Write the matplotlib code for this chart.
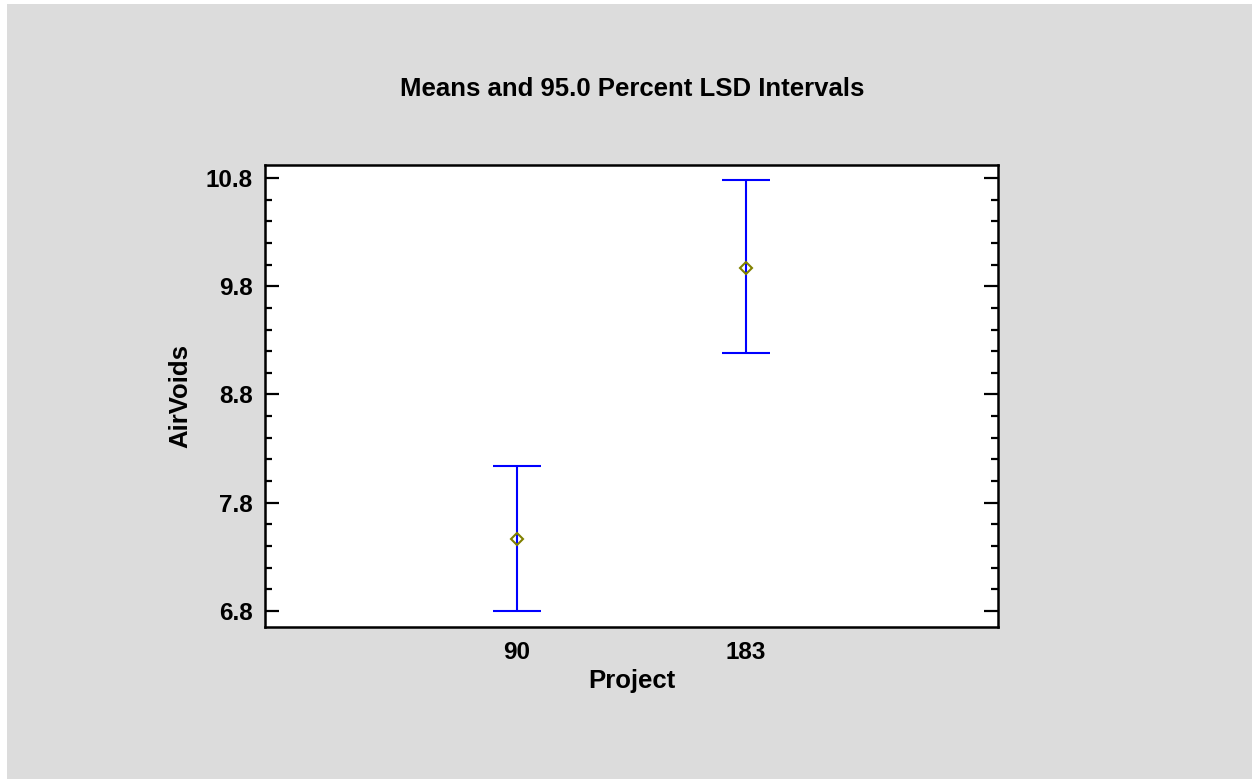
import matplotlib
matplotlib.use('Agg')
import matplotlib.pyplot as plt
from matplotlib.patches import Rectangle
from matplotlib.ticker import MultipleLocator

plt.rcParams['font.family'] = ['Liberation Sans', 'DejaVu Sans']
plt.rcParams['font.weight'] = 'bold'

# 데이터: 그룹별 평균과 95% LSD 구간
projects = ['90', '183']
means = [7.465, 9.97]
lower = [6.80, 9.18]
upper = [8.14, 10.78]

fig = plt.figure(figsize=(12.52, 7.79), dpi=100)
fig.patch.set_facecolor('white')
# 회색 배경 (왼쪽/위쪽에 얇은 흰 테두리)
fig.patches.append(Rectangle((7 / 1252, 0), 1 - 7 / 1252, 1 - 4 / 779,
                             transform=fig.transFigure, facecolor='#DCDCDC',
                             edgecolor='none', zorder=-10))

ax = fig.add_axes([265 / 1252, 1 - 627 / 779, 733 / 1252, 462 / 779])
ax.set_facecolor('white')

x = list(range(1, len(projects) + 1))
err_lo = [m - l for m, l in zip(means, lower)]
err_hi = [u - m for m, u in zip(means, upper)]
ax.errorbar(x, means, yerr=[err_lo, err_hi], fmt='none', ecolor='#0000FF',
            elinewidth=1.5, capsize=17, capthick=1.5, zorder=2)
ax.plot(x, means, linestyle='none', marker='D', markersize=6.2,
        markerfacecolor='none', markeredgecolor='#808000', markeredgewidth=1.5, zorder=3)

ax.set_xlim(-0.1, 3.1)
ax.set_ylim(6.652, 10.92)
ax.set_xticks(x)
ax.set_xticklabels(projects)
ax.yaxis.set_major_locator(MultipleLocator(1.0))
ax.yaxis.set_minor_locator(MultipleLocator(0.2))
ax.set_yticks([6.8, 7.8, 8.8, 9.8, 10.8])

for s in ax.spines.values():
    s.set_linewidth(1.8)
ax.tick_params(axis='y', which='major', direction='in', length=10, width=1.6,
               left=True, right=True, labelsize=17.5, pad=9)
ax.tick_params(axis='y', which='minor', direction='in', length=5, width=1.6,
               left=True, right=True)
ax.tick_params(axis='x', which='both', length=0, labelsize=17.5, pad=10)

ax.set_xlabel('Project', fontsize=18.5, fontweight='bold')
ax.set_ylabel('AirVoids', fontsize=18.5, fontweight='bold')
ax.xaxis.set_label_coords(0.5, -0.09)
ax.yaxis.set_label_coords(-0.0996, 0.5)

fig.text(632 / 1252, 1 - 89 / 779, 'Means and 95.0 Percent LSD Intervals',
         ha='center', va='center', fontsize=18.5, fontweight='bold')

fig.savefig('out.png', dpi=100)
